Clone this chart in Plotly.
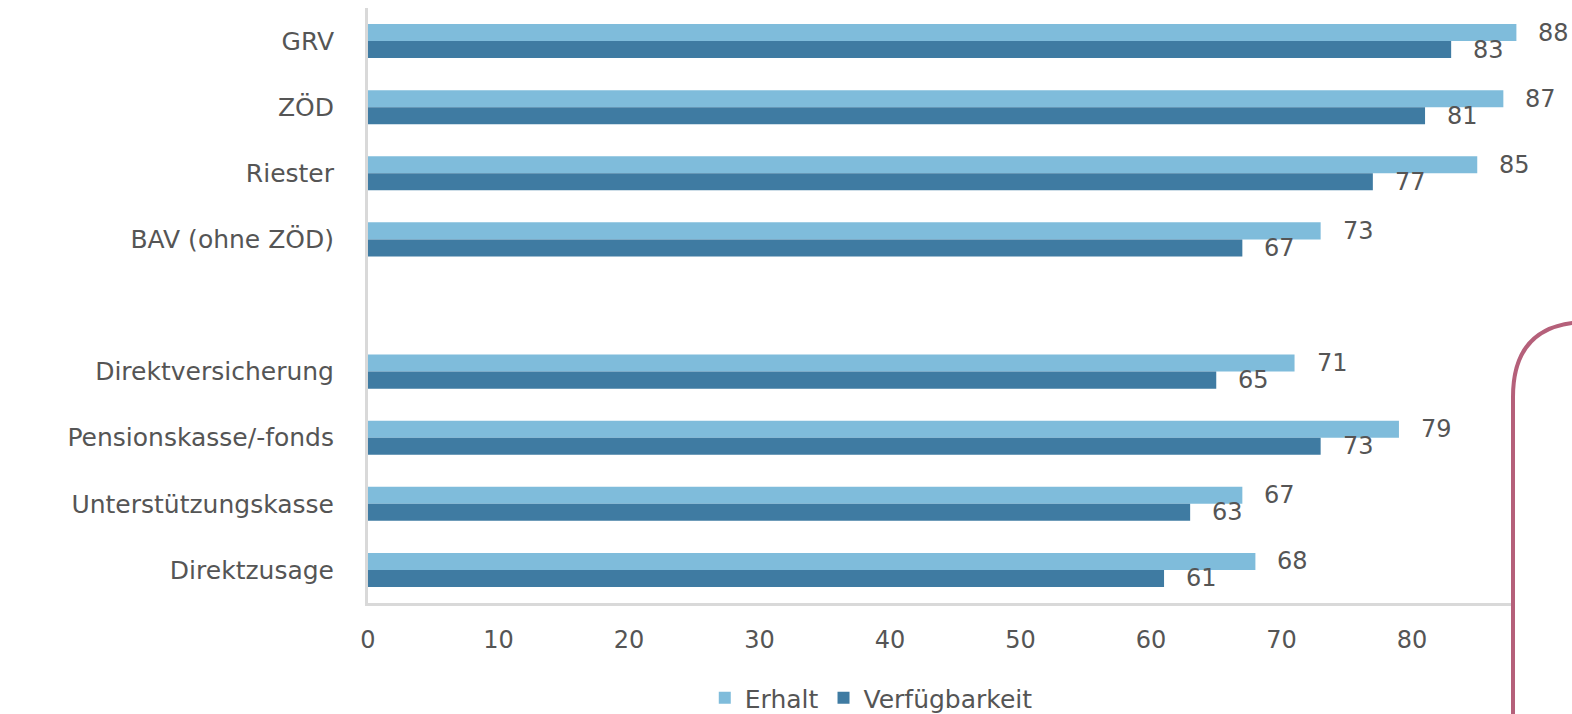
import plotly.graph_objects as go

categories = ["GRV", "ZÖD", "Riester", "BAV (ohne ZÖD)", " ",
              "Direktversicherung", "Pensionskasse/-fonds",
              "Unterstützungskasse", "Direktzusage"]
erhalt = [88, 87, 85, 73, None, 71, 79, 67, 68]
verfuegbarkeit = [83, 81, 77, 67, None, 65, 73, 63, 61]
x_ticks = [0, 10, 20, 30, 40, 50, 60, 70, 80]

W, H = 1572, 714
L, R, T, B = 368, 0, 8, 111
FONT = "DejaVu Sans"
TXT = "#555555"
C_ERH = "#7fbcdb"
C_VER = "#3f7ba2"

fig = go.Figure()
fig.add_trace(go.Bar(y=categories, x=erhalt, orientation="h", name="Erhalt",
                     marker=dict(color=C_ERH, line=dict(width=0))))
fig.add_trace(go.Bar(y=categories, x=verfuegbarkeit, orientation="h", name="Verfügbarkeit",
                     marker=dict(color=C_VER, line=dict(width=0))))

anns = []
for cat, e, v in zip(categories, erhalt, verfuegbarkeit):
    if e is not None:
        anns.append(dict(x=e, y=cat, xref="x", yref="y", text=str(e), showarrow=False,
                         xanchor="left", yanchor="middle", xshift=20, yshift=8.5,
                         font=dict(family=FONT, size=24, color=TXT)))
    if v is not None:
        anns.append(dict(x=v, y=cat, xref="x", yref="y", text=str(v), showarrow=False,
                         xanchor="left", yanchor="middle", xshift=20, yshift=-8.5,
                         font=dict(family=FONT, size=24, color=TXT)))

pw = W - L - R
ph = H - T - B
def px(x):
    return (x - L) / pw
def py(y):
    return (H - B - y) / ph

rl, rt, rr = 1513, 322, 75
path = (f"M {px(rl)},{py(740)} L {px(rl)},{py(rt + rr)} "
        f"Q {px(rl)},{py(rt)} {px(rl + rr)},{py(rt)} "
        f"L {px(1620)},{py(rt)} L {px(1620)},{py(740)} Z")

xmax = (W - L - R) / 13.05

fig.update_layout(
    width=W, height=H,
    margin=dict(l=L, r=R, t=T, b=B, pad=0, autoexpand=False),
    paper_bgcolor="white", plot_bgcolor="white",
    barmode="group", bargap=0.485, bargroupgap=0,
    font=dict(family=FONT, size=25, color=TXT),
    showlegend=True,
    legend=dict(orientation="h", x=0.418, xanchor="center", y=py(698), yanchor="middle",
                font=dict(family=FONT, size=25, color=TXT), traceorder="normal",
                itemclick=False),
    annotations=anns,
    shapes=[dict(type="path", path=path, xref="paper", yref="paper",
                 fillcolor="white", line=dict(color="#b5607a", width=4), layer="above")],
    xaxis=dict(range=[0, xmax], tickvals=x_ticks, showgrid=False, zeroline=False,
               showline=True, linecolor="#d9d9d9", linewidth=3,
               ticks="", ticklabelstandoff=13,
               tickfont=dict(family=FONT, size=24, color=TXT), fixedrange=True),
    yaxis=dict(categoryorder="array", categoryarray=categories, autorange="reversed",
               showgrid=False, zeroline=False, showline=True, linecolor="#d9d9d9",
               linewidth=3, ticks="", ticklabelstandoff=26,
               tickfont=dict(family=FONT, size=25, color=TXT), fixedrange=True),
)

fig.write_html("out.html")
